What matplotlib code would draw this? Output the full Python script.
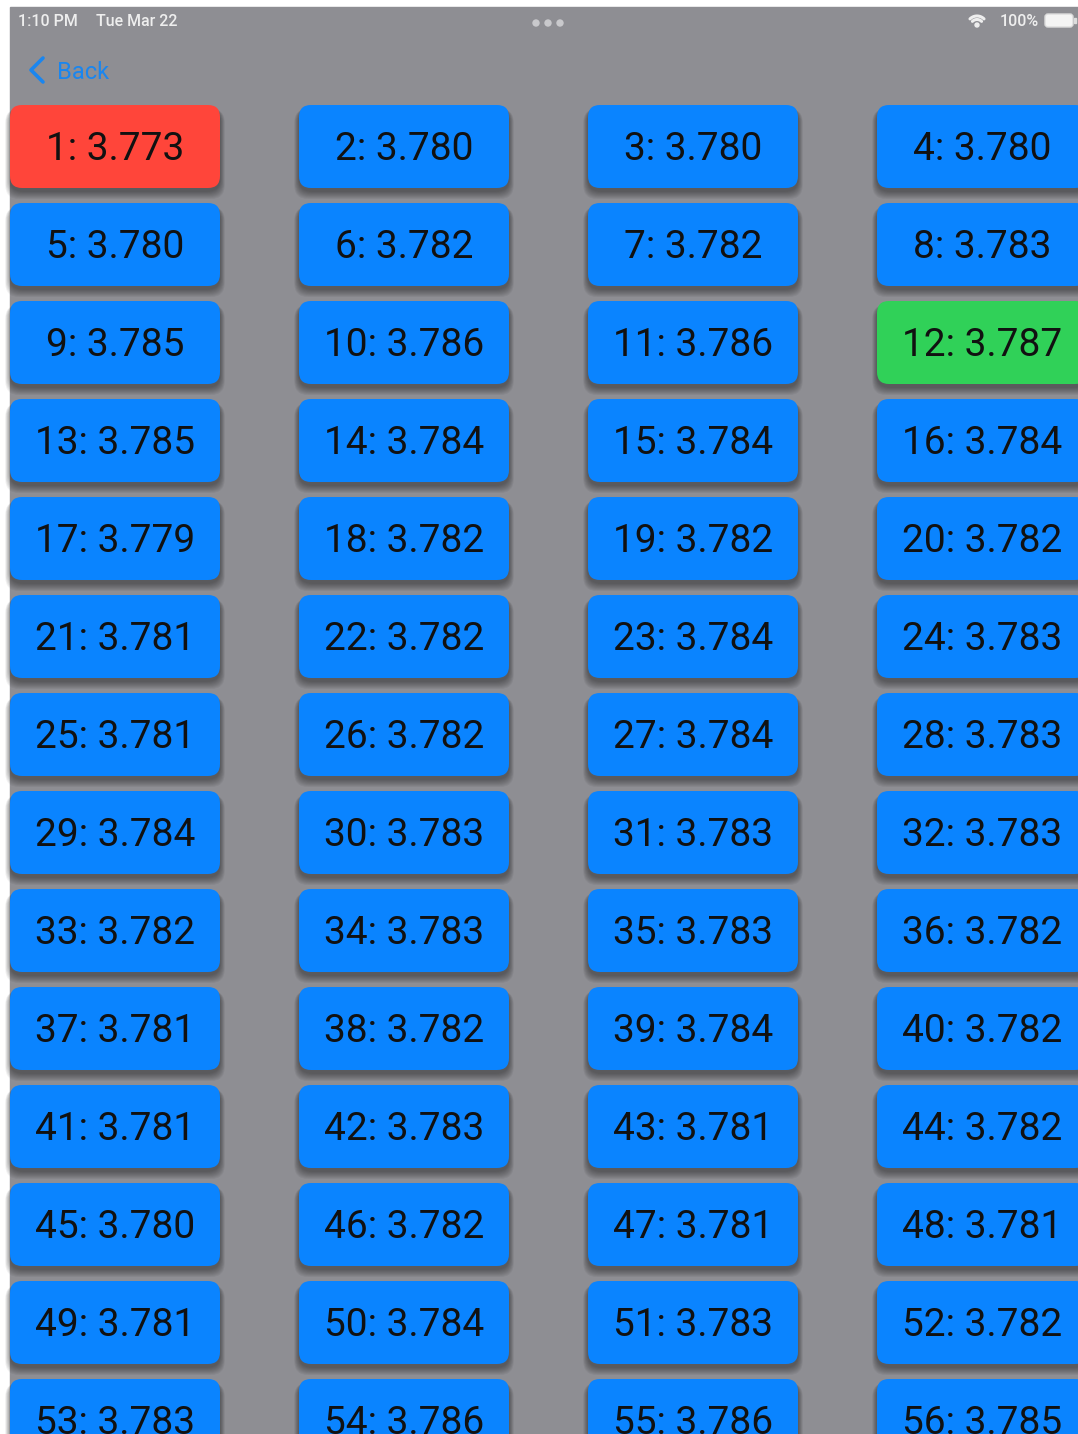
import numpy as np
import matplotlib
matplotlib.use("Agg")
import matplotlib.pyplot as plt
from matplotlib.patches import FancyBboxPatch, Rectangle, Circle
from matplotlib.lines import Line2D

# --- data: button index -> reading ---
readings = [3.773, 3.780, 3.780, 3.780, 3.780, 3.782, 3.782, 3.783,
            3.785, 3.786, 3.786, 3.787, 3.785, 3.784, 3.784, 3.784,
            3.779, 3.782, 3.782, 3.782, 3.781, 3.782, 3.784, 3.783,
            3.781, 3.782, 3.784, 3.783, 3.784, 3.783, 3.783, 3.783,
            3.782, 3.783, 3.783, 3.782, 3.781, 3.782, 3.784, 3.782,
            3.781, 3.783, 3.781, 3.782, 3.780, 3.782, 3.781, 3.781,
            3.781, 3.784, 3.783, 3.782, 3.783, 3.786, 3.786, 3.785]
status_time = "1:10 PM"
status_date = "Tue Mar 22"
status_battery = "100%"
back_label = "Back"

# --- style ---
W, H = 1078, 1434
BG_GRAY = "#8e8e93"
BLUE = "#0a84ff"
RED = "#ff453a"
GREEN = "#30d158"
N_COLS = 4
COL_PITCH, ROW_PITCH = 289, 98
BTN_W, BTN_H = 210, 83
X0, Y0 = 10, 105
BTN_FONT = ["Roboto", "DejaVu Sans"]
SB_FONT = ["Roboto", "DejaVu Sans"]
SB_COLOR = "#eeeeee"

fig = plt.figure(figsize=(W / 100, H / 100), dpi=100)
fig.patch.set_facecolor("white")
ax = fig.add_axes([0, 0, 1, 1])
ax.set_xlim(0, W)
ax.set_ylim(H, 0)
ax.axis("off")

# screen background (white margin at top/left as in the screenshot)
ax.add_patch(Rectangle((10, 7), W - 10, H - 7, color=BG_GRAY, zorder=0))

lo, hi = min(readings), max(readings)
lo_idx, hi_idx = readings.index(lo), readings.index(hi)

for i, val in enumerate(readings):
    col, row = i % N_COLS, i // N_COLS
    x = X0 + col * COL_PITCH
    y = Y0 + row * ROW_PITCH
    # soft drop shadow, mostly below the button
    for k in range(1, 9):
        ax.add_patch(FancyBboxPatch((x - k * 0.6, y + 3 + k * 0.1), BTN_W + k * 1.2, BTN_H + k * 0.9,
                                    boxstyle="round,pad=0,rounding_size=14",
                                    fc="black", ec="none", alpha=0.05, zorder=1))
    color = RED if i == lo_idx else GREEN if i == hi_idx else BLUE
    ax.add_patch(FancyBboxPatch((x, y), BTN_W, BTN_H, boxstyle="round,pad=0,rounding_size=12",
                                fc=color, ec="none", zorder=2))
    ax.text(x + BTN_W / 2, y + BTN_H / 2 + 14, f"{i + 1}: {val:.3f}", ha="center", va="baseline",
            fontsize=28, color="#111111", family=BTN_FONT, zorder=3)

# --- status bar ---
ax.text(18, 26, status_time, fontsize=11.5, color=SB_COLOR, family=SB_FONT, weight="medium", va="baseline")
ax.text(96, 26, status_date, fontsize=11.5, color=SB_COLOR, family=SB_FONT, weight="medium", va="baseline")
for dx in (-12, 0, 12):
    ax.add_patch(Circle((548 + dx, 23), 3, color="#c9c9cc", zorder=3))
ax.text(1039, 26, status_battery, fontsize=11.5, color=SB_COLOR, family=SB_FONT, weight="medium",
        ha="right", va="baseline")

# wifi icon
t = np.linspace(-0.78, 0.78, 20)
for r in (10, 6.5):
    ax.plot(977 + r * np.sin(t), 26 - r * np.cos(t), color=SB_COLOR, lw=2.2, solid_capstyle="round")
ax.add_patch(Circle((977, 25), 2, color=SB_COLOR))

# battery
ax.add_patch(FancyBboxPatch((1045, 14), 28, 13, boxstyle="round,pad=0,rounding_size=3",
                            fc="#f4f4f4", ec="#dddddd", lw=1))
ax.add_patch(Rectangle((1074, 18), 2, 5, color="#dddddd"))

# --- back button ---
ax.add_line(Line2D([43, 31, 43], [58, 70, 82], color="#1a86ef", lw=2.6,
                   solid_capstyle="round", solid_joinstyle="round"))
ax.text(57, 79, back_label, fontsize=17, color="#1a86ef", family=SB_FONT, va="baseline")

fig.savefig("out.png", dpi=100, facecolor="white")
